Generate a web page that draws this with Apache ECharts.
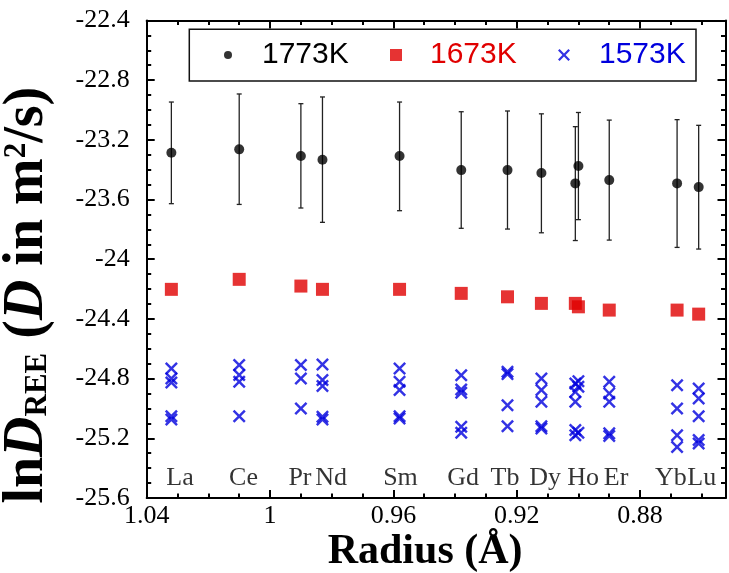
<!DOCTYPE html>
<html><head><meta charset="utf-8">
<script src="https://cdn.jsdelivr.net/npm/echarts@6/dist/echarts.min.js"></script>
<style>html,body{margin:0;padding:0;background:#fff}#c{width:729px;height:573px}</style>
</head><body><div id="c"></div>
<script>
// ---- data ----
const elements = ['La','Ce','Pr','Nd','Sm','Gd','Tb','Dy','Ho','Y','Er','Yb','Lu'];
const radius   = [1.032,1.010,0.990,0.983,0.958,0.938,0.923,0.912,0.901,0.900,0.890,0.868,0.861];
const ln1773     = [-23.287,-23.264,-23.309,-23.334,-23.309,-23.403,-23.403,-23.423,-23.492,-23.376,-23.470,-23.492,-23.517];
const err1773Low = [-23.628,-23.633,-23.657,-23.753,-23.675,-23.793,-23.798,-23.823,-23.875,-23.735,-23.872,-23.921,-23.932];
const err1773High= [-22.947,-22.893,-22.958,-22.913,-22.947,-23.012,-23.007,-23.026,-23.112,-23.017,-23.068,-23.065,-23.103];
const ln1673     = [-24.202,-24.135,-24.180,-24.202,-24.202,-24.229,-24.252,-24.296,-24.296,-24.319,-24.341,-24.341,-24.368];
const ln1573 = [
  [-24.732,-24.799,-24.826,-25.052,-25.074],
  [-24.709,-24.776,-24.821,-25.052],
  [-24.709,-24.799,-25.000],
  [-24.705,-24.810,-24.850,-25.056,-25.074],
  [-24.732,-24.821,-24.877,-25.052,-25.067],
  [-24.777,-24.873,-24.895,-25.123,-25.163],
  [-24.754,-24.770,-24.978,-25.119],
  [-24.799,-24.877,-24.955,-25.119,-25.134],
  [-24.833,-24.889,-24.955,-25.145,-25.179],
  [-24.817,-24.855,-25.163],
  [-24.821,-24.899,-24.955,-25.167,-25.185],
  [-24.844,-25.000,-25.179,-25.258],
  [-24.866,-24.933,-25.052,-25.212,-25.235]
];
const labelNames  = ['La','Ce','Pr','Nd','Sm','Gd','Tb','Dy','Ho','Er','Yb','Lu'];
const labelRadius = [1.0292,1.0086,0.9903,0.9802,0.9577,0.9374,0.9238,0.9108,0.8985,0.8878,0.8700,0.8600];
const labelLevel  = -25.47;
const xMajorTicks = [1.04,1.00,0.96,0.92,0.88];
const xMinorTicks = [1.03,1.02,1.01,0.99,0.98,0.97,0.95,0.94,0.93,0.91,0.90,0.89,0.87,0.86];
const xLeft = 1.04, xRight = 0.8523;
const yMin = -25.6, yMax = -22.4, yStep = 0.4;
const seriesNames = ['1773K','1673K','1573K'];

// ---- styles ----
const SERIF = '"Liberation Serif","Times New Roman",Times,serif';
const SANS = '"Liberation Sans",Arial,Helvetica,sans-serif';
const RED = '#e00000', BLUE = '#0000dd';
const CROSS = 'path://M0,1.6L1.6,0L6,4.4L10.4,0L12,1.6L7.6,6L12,10.4L10.4,12L6,7.6L1.6,12L0,10.4L4.4,6Z';
const SQUARE = 'path://M0,0L10,0L10,10L0,10Z';

function xAx(pos, ticks, len, withLabels, withLine) {
  const a = {
    type:'value', position:pos, inverse:true, min:xRight, max:xLeft,
    axisLine:{show:withLine, onZero:false, lineStyle:{color:'#000', width:2}},
    axisTick:{show:true, inside:true, length:len, customValues:ticks, lineStyle:{color:'#000', width:2}},
    axisLabel:{show:withLabels},
    splitLine:{show:false}
  };
  if (withLabels) {
    a.axisLabel = {show:true, customValues:ticks, formatter:v=>String(+(+v).toFixed(2)),
      fontFamily:SERIF, fontSize:26, color:'#000', margin:5};
    a.name = 'Radius (Å)';
    a.nameLocation = 'middle';
    a.nameGap = 33;
    a.nameMoveOverlap = false;
    a.nameTextStyle = {fontFamily:SERIF, fontWeight:'bold', fontSize:42, color:'#000', padding:[0,22,0,0]};
  }
  return a;
}
function yAx(pos, withLabels) {
  const a = {
    type:'value', position:pos, min:yMin, max:yMax, interval:yStep,
    axisLine:{show:true, onZero:false, lineStyle:{color:'#000', width:2}},
    axisTick:{show:true, inside:true, length:8, lineStyle:{color:'#000', width:2}},
    minorTick:{show:true, splitNumber:4, length:4.5, lineStyle:{color:'#000', width:2}},
    axisLabel:{show:withLabels, formatter:v=>String(+(+v).toFixed(1)),
      fontFamily:SERIF, fontSize:26, color:'#000', margin:17},
    splitLine:{show:false}, minorSplitLine:{show:false}
  };
  if (withLabels) {
    a.name = '{n|ln}{i|D}{s|REE}{n| (}{i|D}{n| in m}{p|2}{n|/s)}';
    a.nameLocation = 'middle';
    a.nameRotate = 90;
    a.nameGap = 93;
    a.nameMoveOverlap = false;
    a.nameTextStyle = {fontFamily:SERIF, fontWeight:'bold', fontSize:56, color:'#000', padding:[0,72,0,0],
      rich:{
        n:{fontFamily:SERIF, fontWeight:'bold', fontSize:56, lineHeight:52, color:'#000'},
        i:{fontFamily:SERIF, fontWeight:'bold', fontStyle:'italic', fontSize:56, lineHeight:52, color:'#000'},
        s:{fontFamily:SERIF, fontWeight:'bold', fontSize:31, lineHeight:14, verticalAlign:'bottom', color:'#000'},
        p:{fontFamily:SERIF, fontWeight:'bold', fontSize:31, lineHeight:30, verticalAlign:'top', color:'#000'}
      }};
  }
  return a;
}

const errData = radius.map((r,i)=>[r, err1773Low[i], err1773High[i]]);
const d1773 = radius.map((r,i)=>[r, ln1773[i]]);
const d1673 = radius.map((r,i)=>[r, ln1673[i]]);
const d1573 = [];
ln1573.forEach((vals,i)=>vals.forEach(v=>d1573.push([radius[i], v])));
const labelData = labelRadius.map((r,i)=>({name:labelNames[i], value:[r, labelLevel]}));

const chart = echarts.init(document.getElementById('c'), null, {renderer:'canvas'});
chart.setOption({
  animation:false,
  backgroundColor:'#fff',
  textStyle:{fontFamily:SERIF},
  grid:{left:146.7, right:3.5, top:20.4, bottom:75, outerBoundsMode:'none', containLabel:false},
  xAxis:[
    xAx('bottom', xMajorTicks, 8, true, true),
    xAx('bottom', xMinorTicks, 4.5, false, false),
    xAx('top', xMajorTicks, 8, false, true),
    xAx('top', xMinorTicks, 4.5, false, false)
  ],
  yAxis:[ yAx('left', true), yAx('right', false) ],
  graphic:[{type:'rect', z:3, shape:{x:189.3, y:29.3, width:506.7, height:51.7},
    style:{fill:'#fff', stroke:'#111', lineWidth:1.5}}],
  legend:[
    {data:[seriesNames[0]], left:224, top:40, itemWidth:58, itemHeight:8, padding:0, selectedMode:false,
      textStyle:{fontFamily:SANS, fontSize:30, color:'#000'}},
    {data:[seriesNames[1]], left:390, top:40, itemWidth:58, itemHeight:12, padding:0, selectedMode:false,
      textStyle:{fontFamily:SANS, fontSize:30, color:RED}},
    {data:[seriesNames[2]], left:558, top:40, itemWidth:60, itemHeight:12, padding:0, selectedMode:false,
      textStyle:{fontFamily:SANS, fontSize:30, color:BLUE}}
  ],
  series:[
    {type:'custom', name:'err', xAxisIndex:0, yAxisIndex:0, data:errData, encode:{x:0, y:[1,2]}, z:2, silent:true,
      renderItem:function(params, api){
        const x = api.value(0);
        const lo = api.coord([x, api.value(1)]);
        const hi = api.coord([x, api.value(2)]);
        const w = 2.5;
        const st = {stroke:'#222', lineWidth:1.3};
        return {type:'group', children:[
          {type:'line', shape:{x1:lo[0], y1:lo[1], x2:hi[0], y2:hi[1]}, style:st},
          {type:'line', shape:{x1:lo[0]-w, y1:lo[1], x2:lo[0]+w, y2:lo[1]}, style:st},
          {type:'line', shape:{x1:hi[0]-w, y1:hi[1], x2:hi[0]+w, y2:hi[1]}, style:st}
        ]};
      }},
    {type:'scatter', name:seriesNames[0], data:d1773, symbol:'circle', symbolSize:10, itemStyle:{color:'#000'}, z:3},
    {type:'scatter', name:seriesNames[1], data:d1673, symbol:SQUARE, symbolSize:13, itemStyle:{color:RED}, z:3},
    {type:'scatter', name:seriesNames[2], data:d1573, symbol:CROSS, symbolSize:13, itemStyle:{color:BLUE}, z:3},
    {type:'scatter', name:'labels', data:labelData, symbolSize:1, itemStyle:{color:'rgba(0,0,0,0)'}, silent:true, z:4,
      label:{show:true, position:'inside', formatter:'{b}', fontFamily:SERIF, fontSize:26, color:'#000'}}
  ]
});
</script>
</body></html>
